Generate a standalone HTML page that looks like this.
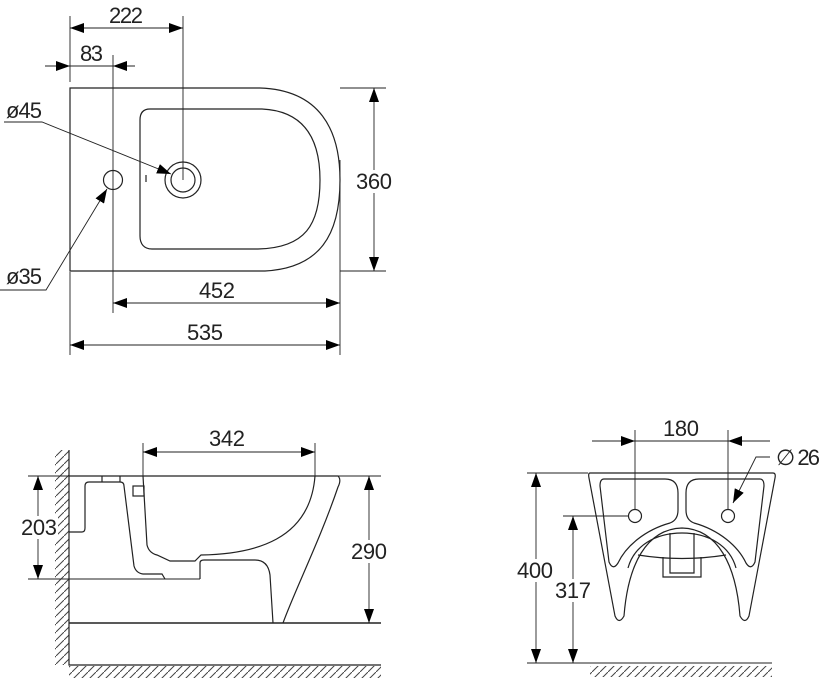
<!DOCTYPE html>
<html><head><meta charset="utf-8"><style>
html,body{margin:0;padding:0;background:#fff}
svg{display:block}
text{font-family:"Liberation Sans Narrow","Liberation Sans",sans-serif;font-size:22px;fill:#222}
</style></head><body>
<svg width="824" height="697" viewBox="0 0 824 697" xmlns="http://www.w3.org/2000/svg">
<defs>
<marker id="a" viewBox="0 0 14 10" refX="14" refY="5" markerWidth="14" markerHeight="10" markerUnits="userSpaceOnUse" orient="auto-start-reverse"><path d="M0,0L14,5L0,10Z" fill="#000"/></marker>
<pattern id="h" width="8" height="8" patternUnits="userSpaceOnUse"><path d="M0,8L8,0" stroke="#444" stroke-width="1"/></pattern>
</defs>
<g fill="none" stroke="#222" stroke-width="1.2">
<!-- TOP VIEW -->
<path d="M70,88 H260 C320,90 340,130 340,180 C340,235 320,268 265,271 H70 Z"/>
<path d="M150,109 H262 C305,111 320,140 320,180 C320,225 305,248 258,249 H152 C144,249 140,244 140,236 V120 C140,112 144,109 150,109 Z"/>
<circle cx="113" cy="180" r="9.5"/>
<circle cx="183" cy="180" r="18"/>
<circle cx="183" cy="180" r="12"/>
<path d="M146,175 V182"/>
<g stroke-width="0.9">
<path d="M70,16 V82 M183,16 V180 M113,55 V313 M340,160 V355 M70,272 V355 M340,88 H386 M340,271 H386"/>
<path d="M70,28 H183" marker-start="url(#a)" marker-end="url(#a)"/>
<path d="M70,66 H113"/>
<path d="M45,66 H70" marker-end="url(#a)"/>
<path d="M135,66 H113" marker-end="url(#a)"/>
<path d="M374,88 V271" marker-start="url(#a)" marker-end="url(#a)"/>
<path d="M113,303 H340" marker-start="url(#a)" marker-end="url(#a)"/>
<path d="M70,345 H340" marker-start="url(#a)" marker-end="url(#a)"/>
<path d="M4,122 H42 L171,174" marker-end="url(#a)"/>
<path d="M0,290 H46 L107,189" marker-end="url(#a)"/>
</g>
<!-- SIDE VIEW -->
<rect x="55" y="450" width="14" height="215" fill="url(#h)" stroke="none"/>
<rect x="69" y="666" width="312" height="12" fill="url(#h)" stroke="none"/>
<path d="M69,450 V665 H381" stroke-width="1.2"/>
<path d="M69,476 H338 C341,479 340,483 338,487 C320,540 295,590 283,623"/>
<path d="M69,623 H381" stroke-width="1.6"/>
<path d="M69,532 H82 Q85,532 85,528 V486 Q85,482 89,482 H120 Q124,482 124,486 L134,566 Q136,573 143,574 H162 L165,579"/>
<path d="M102,476 V482 M120,476 V482"/>
<rect x="133" y="486" width="11" height="10"/>
<path d="M143,476 L147,545 Q149,553 157,555 L170,561 H195 L201,555 C255,554 310,540 315,476"/>
<path d="M200,579 V563 Q200,560 204,560 H255 Q268,560 270,575 L273,623"/>
<g stroke-width="0.9">
<path d="M28,476 H69 M338,476 H381 M28,579 H200 M338,623 H381 M143,443 V476 M315,443 V476"/>
<path d="M143,452 H315" marker-start="url(#a)" marker-end="url(#a)"/>
<path d="M38,476 V579" marker-start="url(#a)" marker-end="url(#a)"/>
<path d="M369,476 V623" marker-start="url(#a)" marker-end="url(#a)"/>
</g>
<!-- FRONT VIEW -->
<path d="M590,473 H773 Q776,473 775,478 L749,616 Q745,625 740,616 C736,565 718,529 682,528 C646,529 628,565 624,616 Q619,625 615,616 L589,478 Q588,473 590,473 Z"/>
<path d="M604,479 H665 Q678,479 678,493 V510 Q678,520 670,523 C645,530 626,546 618,563 Q613,571 609,562 L600,486 Q600,479 604,479 Z"/>
<path d="M760,479 H699 Q686,479 686,493 V510 Q686,520 694,523 C719,530 738,546 746,563 Q751,571 755,562 L764,486 Q764,479 760,479 Z"/>
<path d="M628,568 C634,546 655,533 682,533 C709,533 730,546 736,568"/>
<path d="M638,555 Q682,562 726,555"/>
<path d="M670,533 V573 H694 V533"/>
<path d="M663,557 V577 H701 V557"/>
<circle cx="635" cy="516" r="6.5"/>
<circle cx="728" cy="516" r="6.5"/>
<rect x="590" y="666" width="182" height="11" fill="url(#h)" stroke="none"/>
<g stroke-width="0.9">
<path d="M527,473 H588 M527,663 H772 M563,516 H628 M635,430 V510 M728,430 V510"/>
<path d="M592,441 H635" marker-end="url(#a)"/>
<path d="M770,441 H728" marker-end="url(#a)"/>
<path d="M635,441 H728"/>
<path d="M536,473 V663" marker-start="url(#a)" marker-end="url(#a)"/>
<path d="M573,516 V663" marker-start="url(#a)" marker-end="url(#a)"/>
<path d="M770,457 H756 L733,503" marker-end="url(#a)"/>
</g>
</g>
<g fill="#fff">
<rect x="355" y="170" width="38" height="23"/>
<rect x="20" y="516" width="38" height="23"/>
<rect x="350" y="540" width="38" height="23"/>
<rect x="516" y="559" width="38" height="23"/>
<rect x="554" y="579" width="38" height="23"/>
</g>
<g>
<text x="109" y="23" textLength="34">222</text>
<text x="80" y="61" textLength="23">83</text>
<text x="356" y="189" textLength="36">360</text>
<text x="199" y="298" textLength="36">452</text>
<text x="187" y="340" textLength="36">535</text>
<text x="6" y="118" textLength="36">ø45</text>
<text x="6" y="284" textLength="36">ø35</text>
<text x="209" y="446" textLength="36">342</text>
<text x="21" y="535" textLength="36">203</text>
<text x="351" y="559" textLength="36">290</text>
<text x="663" y="436" textLength="36">180</text>
<text x="776" y="465" textLength="44">∅ 26</text>
<text x="517" y="578" textLength="36">400</text>
<text x="555" y="598" textLength="36">317</text>
</g>
</svg>
</body></html>
